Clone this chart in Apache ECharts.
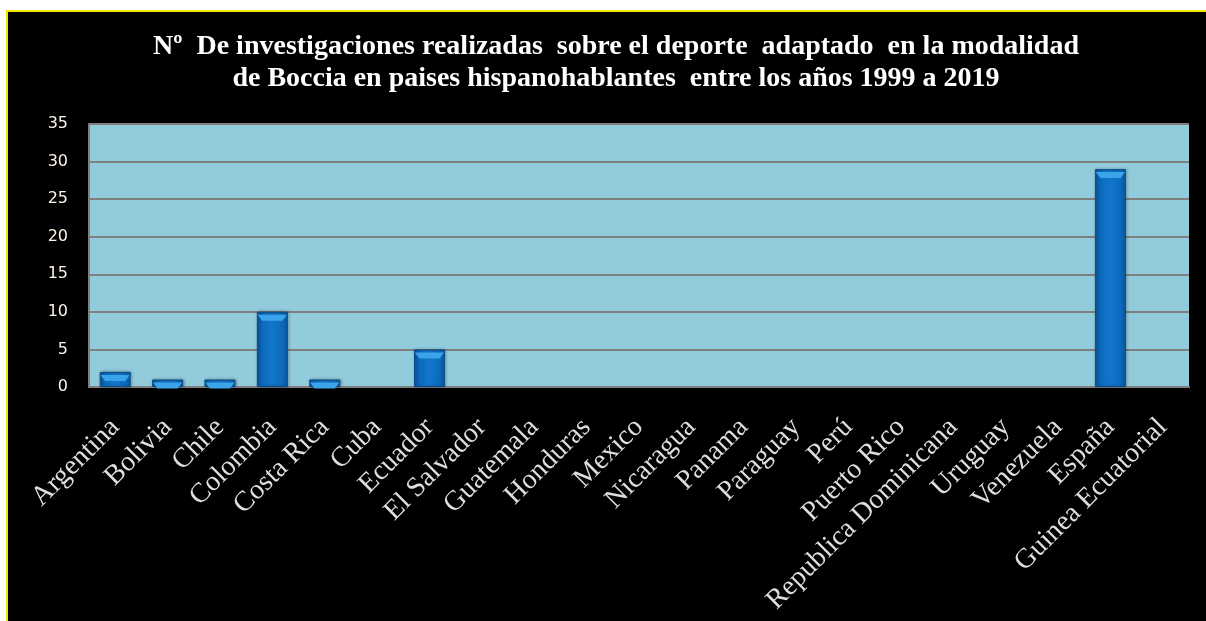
<!DOCTYPE html>
<html>
<head>
<meta charset="utf-8">
<script src="https://cdn.jsdelivr.net/npm/echarts@6/dist/echarts.min.js"></script>
<style>
  html, body { margin: 0; padding: 0; background: #ffffff; width: 1206px; height: 621px; overflow: hidden; }
  #frame { position: absolute; left: 6px; top: 10px; right: 0; bottom: 0; background: #000; border-top: 2px solid #f2e600; border-left: 2px solid #f2e600; }
  #main { position: absolute; left: 0; top: 0; width: 1206px; height: 621px; }
</style>
</head>
<body>
<div id="frame"></div>
<div id="main"></div>
<script>
// chart data
const countries = ['Argentina', 'Bolivia', 'Chile', 'Colombia', 'Costa Rica', 'Cuba', 'Ecuador',
  'El Salvador', 'Guatemala', 'Honduras', 'Mexico', 'Nicaragua', 'Panama', 'Paraguay', 'Perú',
  'Puerto Rico', 'Republica Dominicana', 'Uruguay', 'Venezuela', 'España', 'Guinea Ecuatorial']
const investigaciones = [2, 1, 1, 10, 1, 0, 5, 0, 0, 0, 0, 0, 0, 0, 0, 0, 0, 0, 0, 29, 0]
const yTicks = [0, 5, 10, 15, 20, 25, 30, 35]

const titleText = 'N\u00ba  De investigaciones realizadas  sobre el deporte  adaptado  en la modalidad\n' +
  'de Boccia en paises hispanohablantes  entre los años 1999 a 2019'

// zero values draw nothing in the original
const shown = investigaciones.map(v => (v > 0 ? v : '-'))

const chart = echarts.init(document.getElementById('main'), null, { renderer: 'canvas' })

const option = {
  animation: false,
  backgroundColor: 'transparent',
  title: {
    text: titleText,
    left: 611,
    textAlign: 'center',
    top: 26,
    textStyle: {
      color: '#ffffff',
      fontFamily: 'Liberation Serif',
      fontWeight: 'bold',
      fontSize: 28,
      lineHeight: 32
    }
  },
  grid: { left: 89, right: 17, top: 124, bottom: 234, backgroundColor: '#92cbdc', show: true, borderWidth: 0 },
  xAxis: {
    type: 'category',
    data: countries,
    axisTick: { show: false },
    axisLine: { lineStyle: { color: '#7f7f7f', width: 2 } },
    axisLabel: {
      interval: 0,
      rotate: 45,
      margin: 36,
      color: '#dedede',
      fontFamily: 'Liberation Serif',
      fontSize: 28
    }
  },
  yAxis: {
    type: 'value',
    min: yTicks[0],
    max: yTicks[yTicks.length - 1],
    interval: 5,
    axisLine: { show: true, lineStyle: { color: '#7f7f7f', width: 2 } },
    axisTick: { show: false },
    splitLine: { lineStyle: { color: '#7f7f7f', width: 2 } },
    axisLabel: {
      margin: 21,
      color: '#fbf3e6',
      fontFamily: 'DejaVu Sans',
      fontSize: 16
    }
  },
  series: [
    {
      type: 'bar',
      data: shown,
      barWidth: 31,
      itemStyle: {
        borderColor: '#0b4d8c',
        borderWidth: 1,
        shadowColor: 'rgba(0,0,0,0.35)',
        shadowBlur: 3,
        shadowOffsetX: 1,
        color: new echarts.graphic.LinearGradient(0, 0, 1, 0, [
          { offset: 0, color: '#0a58a0' },
          { offset: 0.2, color: '#0d6bbd' },
          { offset: 0.5, color: '#1177cc' },
          { offset: 0.8, color: '#0d6bbd' },
          { offset: 1, color: '#0a58a0' }
        ])
      }
    },
    {
      type: 'pictorialBar',
      data: shown,
      symbol: 'path://M0,0 L20,0 L17,3 L3,3 Z',
      symbolSize: [29, 6],
      symbolPosition: 'end',
      symbolOffset: [0, 3],
      z: 3,
      itemStyle: { color: '#3aa3ea' }
    }
  ]
}

chart.setOption(option)
</script>
</body>
</html>
